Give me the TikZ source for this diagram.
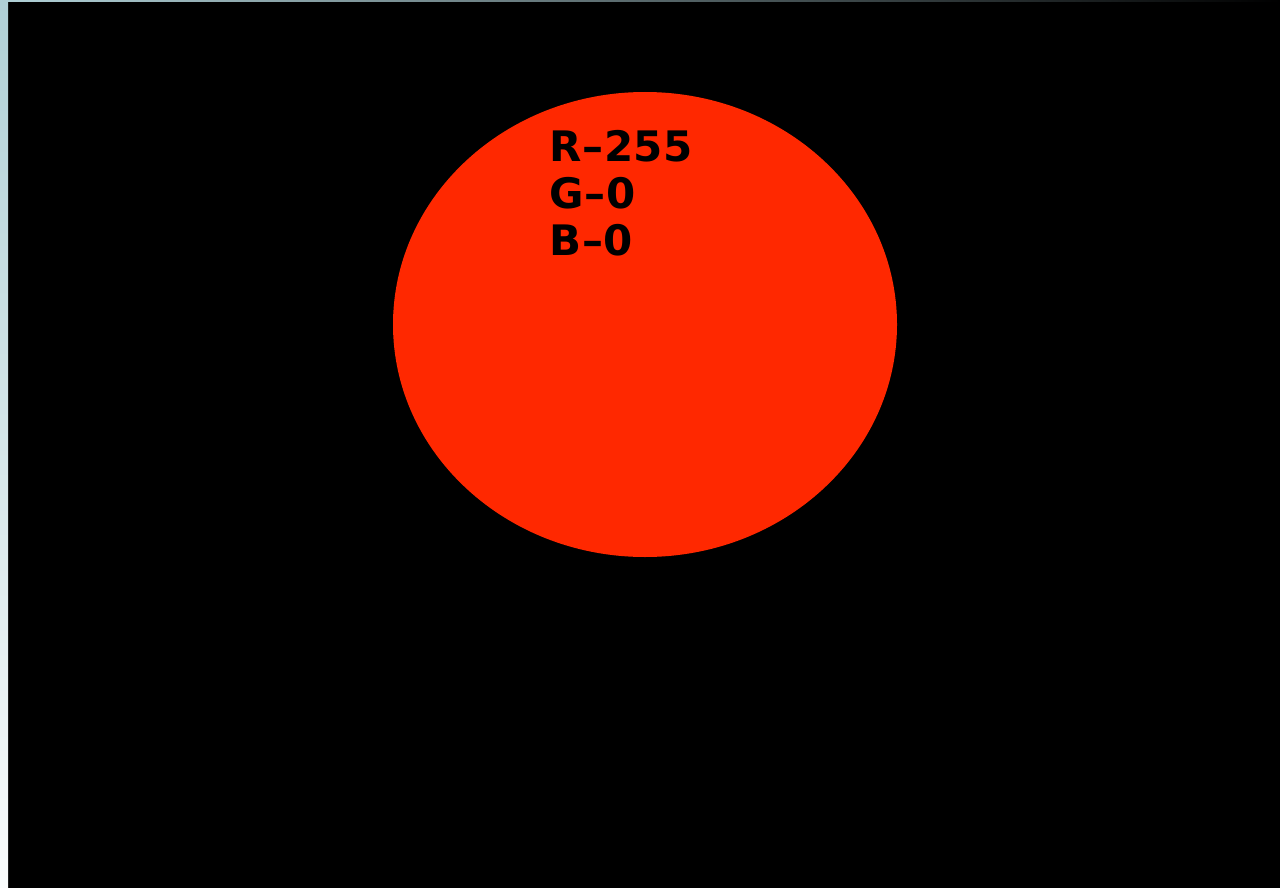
\documentclass[tikz,border=0pt]{standalone}
\usepackage{fontspec}
\usetikzlibrary{shapes.geometric}
\newfontfamily\labfont{DejaVu Sans}
\definecolor{sun}{RGB}{255,40,0}
\definecolor{edgeblue}{RGB}{176,208,214}
\definecolor{edgewhite}{RGB}{250,252,252}
\begin{document}
\begin{tikzpicture}[x=1pt,y=-1pt,
  lab/.style={anchor=base west,inner sep=0pt,font=\labfont\bfseries\fontsize{42}{46}\selectfont,text=black}]
\useasboundingbox (0,0) rectangle (1280,888);
\fill[black] (0,0) rectangle (1280,888);
\shade[top color=edgeblue,bottom color=edgewhite] (0,0) rectangle (8,888);
\shade[left color=edgeblue,right color=black] (8,0) rectangle (1280,2);
\node[ellipse,fill=sun,minimum width=504pt,minimum height=465pt,inner sep=0pt] (sun) at (645,324.5) {};
\node[lab] (r) at (549,162) {R\kern1pt–\kern0.5pt2\kern0.3pt5\kern0.3pt5};
\node[lab] (g) at (549,208) {G\kern1pt–\kern0.5pt0};
\node[lab] (b) at (549,255) {B\kern1pt–\kern0.5pt0};
\end{tikzpicture}
\end{document}
